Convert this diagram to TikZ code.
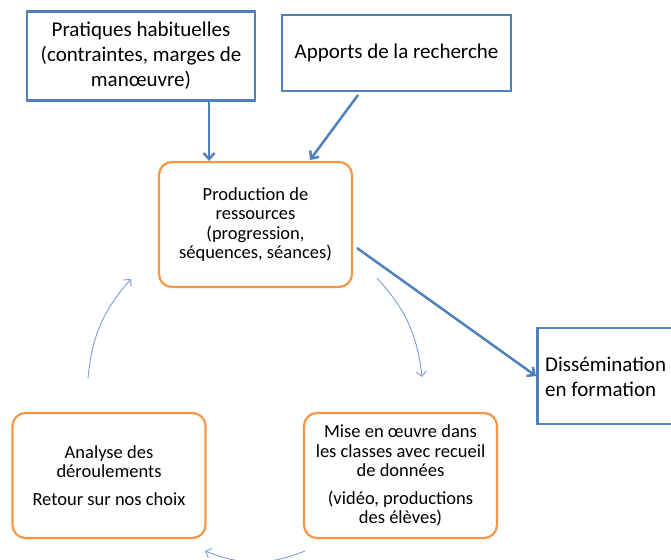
\documentclass[tikz,border=0pt]{standalone}
\usepackage{fontspec}
\setmainfont{Carlito}
\usetikzlibrary{arrows.meta}
\definecolor{bleu}{RGB}{79,129,189}
\definecolor{bleuclair}{RGB}{120,160,210}
\definecolor{orange}{RGB}{247,150,70}
\begin{document}
\begin{tikzpicture}[x=1pt,y=-1pt,
  carre/.style={draw=bleu,line width=2.5pt,align=center,font=\fontsize{21}{25}\selectfont,inner sep=0pt},
  arrondi/.style={draw=orange,line width=2.2pt,rounded corners=13pt,align=center,font=\fontsize{18.5}{19.5}\selectfont,minimum width=193pt,minimum height=125pt,inner sep=0pt},
  fleche/.style={draw=bleu,line width=2.5pt,-{Straight Barb[length=6pt,width=11pt]}},
  fine/.style={draw=bleuclair,line width=0.9pt,-{Straight Barb[length=5pt,width=10pt]}}]
\useasboundingbox (0,0) rectangle (671,559);
\node[carre,minimum width=228pt,minimum height=89pt] (prat) at (141,56) {Pratiques habituelles\\(contraintes, marges de\\manœuvre)};
\node[carre,minimum width=229pt,minimum height=76pt] (appo) at (396.5,53) {Apports de la recherche};
\node[arrondi] (prod) at (255.5,224.5) {Production de\\ressources\\(progression,\\séquences, séances)};
\node[arrondi] (anal) at (109,475.5) {Analyse des\\déroulements\\[8pt]Retour sur nos choix};
\node[arrondi] (mise) at (400.5,475.5) {Mise en œuvre dans\\les classes avec recueil\\de données\\[8pt](vidéo, productions\\des élèves)};
\node[carre,minimum width=160pt,minimum height=96pt,anchor=west] (diss) at (536,376) {};
\node[align=left,anchor=west,font=\fontsize{21}{25}\selectfont,inner sep=0pt] (disstxt) at (545,377) {Dissémination\\en formation};

\coordinate (a1) at (209,101);
\coordinate (a2) at (358,95);
\coordinate (a3) at (357,248);
\coordinate (a4) at (377,278);
\coordinate (a5) at (422,377);
\coordinate (a6) at (88,378);
\coordinate (a7) at (131,279);
\coordinate (a8) at (305,551);
\coordinate (a9) at (205,551);
\path[fleche] (a1) -- (prod.north -| a1);
\path[fleche] (a2) -- (310,160);
\path[fleche] (a3) -- (diss.west);
\path[fine] (a4) to[bend left=18] (a5);
\path[fine] (a6) to[bend left=18] (a7);
\path[fine] (a8) to[bend left=22] (a9);
\end{tikzpicture}
\end{document}
